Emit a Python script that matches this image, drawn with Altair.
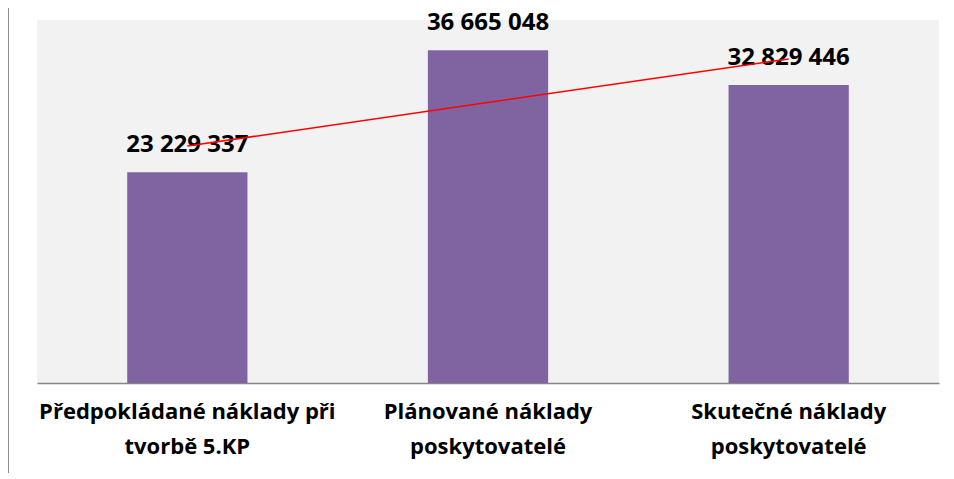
import altair as alt
import pandas as pd

categories = [
    "Předpokládané náklady při\ntvorbě 5.KP",
    "Plánované náklady\nposkytovatelé",
    "Skutečné náklady\nposkytovatelé",
]
values = [23229337, 36665048, 32829446]
order = [0, 1, 2]

df = pd.DataFrame({"cat": categories, "value": values, "idx": order})

FONT = "Open Sans"
W, H = 902, 363

base = alt.Chart(df)

bars = base.mark_bar(color="#8064A2").encode(
    x=alt.X(
        "cat:N",
        sort=categories,
        scale=alt.Scale(paddingInner=0.6, paddingOuter=0.3),
        axis=alt.Axis(
            title=None,
            labelAngle=0,
            labelFont=FONT,
            labelFontSize=22,
            labelFontWeight="bold",
            labelColor="#000000",
            labelPadding=18,
            labelLineHeight=35,
            labelLimit=0,
            labelBaseline="top",
            ticks=False,
            domainColor="#868686",
            domainWidth=1.5,
            labelExpr="split(datum.label, '\\n')",
        ),
    ),
    y=alt.Y("value:Q", scale=alt.Scale(domain=[0, 40000000]), axis=None),
)

labels = base.transform_calculate(
    txt="replace(format(datum.value, ','), regexp(',', 'g'), ' ')"
).mark_text(
    font=FONT, fontSize=24, fontWeight="bold", color="#000000",
    baseline="alphabetic", dy=-20,
).encode(
    x=alt.X("cat:N", sort=categories, axis=None),
    y=alt.Y("value:Q", axis=None),
    text="txt:N",
)

trend = base.transform_regression("idx", "value", method="linear").mark_line(
    color="#FF0000", strokeWidth=1.5
).encode(
    x=alt.X("idx:Q", scale=alt.Scale(domain=[-0.5, 2.5], nice=False, zero=False), axis=None),
    y=alt.Y("value:Q", axis=None),
)

edge = alt.Chart(pd.DataFrame({"a": [0]})).mark_rule(color="#8C8C8C", strokeWidth=2).encode(
    x=alt.value(-29), y=alt.value(-12), y2=alt.value(463)
)

chart = alt.layer(bars, labels, trend, edge).resolve_scale(x="independent").properties(
    width=W, height=H,
    padding={"left": 29, "top": 12, "right": 7, "bottom": 90},
    autosize=alt.AutoSizeParams(type="none"),
).configure_view(fill="#F2F2F2", stroke=None)

chart.save("out.html", embed_options={"renderer": "svg", "actions": False})
